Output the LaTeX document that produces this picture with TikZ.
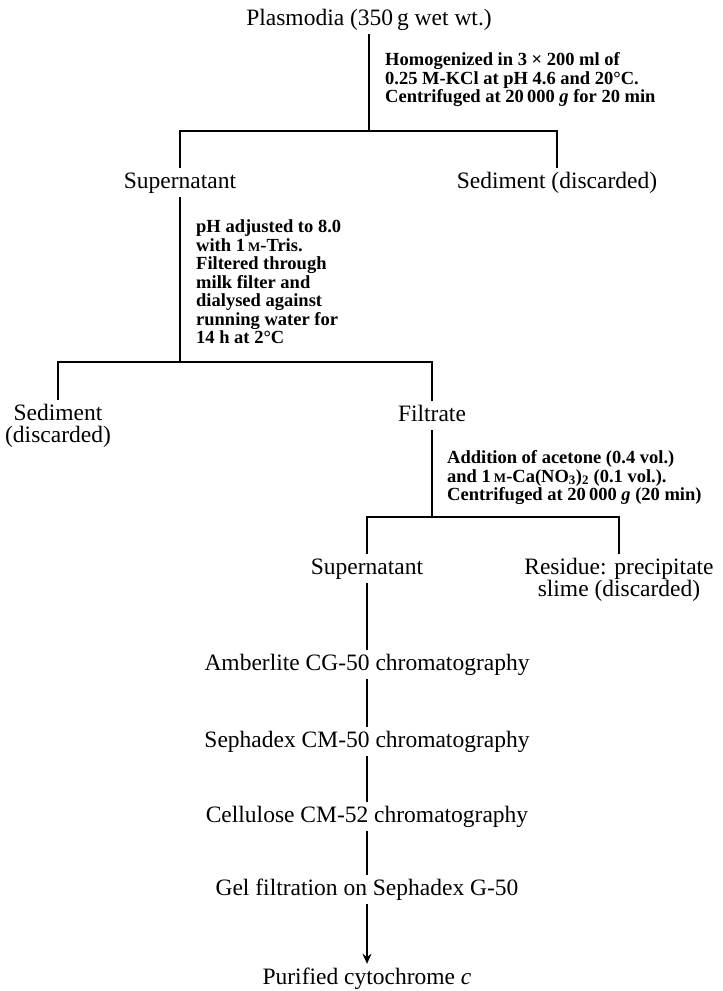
\documentclass[tikz,border=0pt]{standalone}
\usepackage{fontspec}
\setmainfont{Liberation Serif}
\usetikzlibrary{arrows.meta}
\begin{document}
\begin{tikzpicture}[x=1pt,y=-1pt,
  conn/.style={line width=1.6pt},
  mainnode/.style={font=\fontsize{23.5}{22}\selectfont, text height=16pt, text depth=5pt, inner xsep=0pt, inner ysep=4pt, anchor=base},
  mainmulti/.style={font=\fontsize{23.5}{22}\selectfont, align=center, inner xsep=0pt, inner ysep=4pt, anchor=north},
  note/.style={font=\fontsize{18.5}{18.5}\selectfont\bfseries, align=left, inner sep=0pt, anchor=north west}]
\useasboundingbox (0,0) rectangle (723,991);
% nodes
\node[mainnode] (plas) at (369,25) {Plasmodia (350\,g wet wt.)};
\coordinate (j1) at (369,131);
\node[note] (n1) at (385,52.5) {Homogenized in 3 × 200 ml of\\0.25 M-KCl at pH 4.6 and 20°C.\\Centrifuged at 20\,000 \textit{g} for 20 min};
\node[mainnode] (sup1) at (180,188) {Supernatant};
\node[mainnode] (sed1) at (557,188) {Sediment (discarded)};
\coordinate (j2) at (180,362);
\node[note] (n2) at (196,219.5) {pH adjusted to 8.0\\with 1\,{\fontsize{13}{18.5}\selectfont M}-Tris.\\Filtered through\\milk filter and\\dialysed against\\running water for\\14 h at 2°C};
\node[mainmulti] (sed2) at (58,400) {Sediment\\(discarded)};
\node[mainnode] (fil) at (432,421) {Filtrate};
\coordinate (j3) at (432,517);
\node[note] (n3) at (447,450.5) {Addition of acetone (0.4 vol.)\\and 1\,{\fontsize{13}{18.5}\selectfont M}-Ca(NO\textsubscript{3})\textsubscript{2} (0.1 vol.).\\Centrifuged at 20\,000 \textit{g} (20 min)};
\node[mainnode] (sup3) at (367,574) {Supernatant};
\node[mainmulti] (res) at (619,554) {Residue: precipitate\\slime (discarded)};
\node[mainnode] (amb) at (367,670) {Amberlite CG-50 chromatography};
\node[mainnode] (seph) at (367,747) {Sephadex CM-50 chromatography};
\node[mainnode] (cell) at (367,822) {Cellulose CM-52 chromatography};
\node[mainnode] (gel) at (367,895) {Gel filtration on Sephadex G-50};
\node[mainnode] (pur) at (367,984) {Purified cytochrome \textit{c}};
% connectors
\draw[conn] (plas.south) -- (j1);
\draw[conn] (sup1.north) |- (j1) -| (sed1.north);
\draw[conn] (sup1.south) -- (j2);
\draw[conn] (sed2.north) |- (j2) -| (fil.north);
\draw[conn] (fil.south) -- (j3);
\draw[conn] (sup3.north) |- (j3) -| (res.north);
\draw[conn] (sup3) -- (amb);
\draw[conn] (amb) -- (seph);
\draw[conn] (seph) -- (cell);
\draw[conn] (cell) -- (gel);
\draw[conn,-{Stealth[length=10pt,width=9pt]}] (gel) -- (pur);
\end{tikzpicture}
\end{document}
